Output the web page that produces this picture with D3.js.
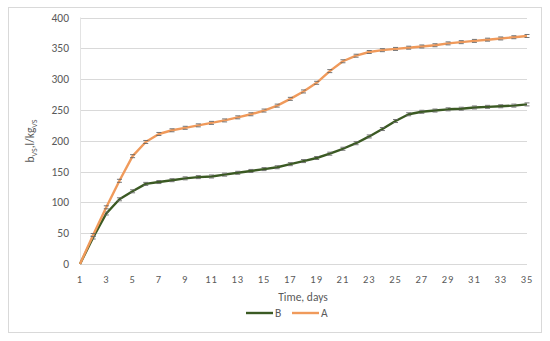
<!DOCTYPE html>
<html>
<head>
<meta charset="utf-8">
<script src="https://cdn.jsdelivr.net/npm/d3@7"></script>
<style>
  body { margin: 0; background: #fff; }
  text { font-family: Carlito, Lato, "Open Sans", sans-serif; }
</style>
</head>
<body>
<svg id="chart" width="550" height="341"></svg>
<script>
// days 1..35
const days = d3.range(1, 36);
const seriesA = [0, 47, 92, 135, 175, 198, 211, 217, 221, 225, 229, 233, 238, 243, 249, 257, 268, 280, 294, 313,
  329, 338, 344, 347, 349, 351, 353, 355, 358, 360, 362, 364, 366, 368, 370];
const seriesB = [0, 43, 82, 105, 118, 130, 133, 136, 139, 141, 142, 145, 148, 151, 154, 157, 162, 167, 172, 179,
  187, 196, 207, 219, 232, 243, 247, 249, 251, 252, 254, 255, 256, 257, 259];
const yTicks = [0, 50, 100, 150, 200, 250, 300, 350, 400];
const xTicks = d3.range(1, 36, 2);

const svg = d3.select('#chart');

// outer chart frame
svg.append('rect')
  .attr('x', 8.5).attr('y', 7.5).attr('width', 533).attr('height', 325)
  .attr('fill', '#fff').attr('stroke', '#d9d9d9');

const x = d3.scaleLinear().domain([1, 35]).range([80, 527]);
const y = d3.scaleLinear().domain([0, 400]).range([264, 17.5]);

// gridlines
svg.append('g')
  .selectAll('line')
  .data(yTicks)
  .join('line')
  .attr('x1', 80).attr('x2', 527)
  .attr('y1', d => Math.round(y(d)) + 0.5).attr('y2', d => Math.round(y(d)) + 0.5)
  .attr('stroke', '#d9d9d9').attr('stroke-width', 1);

svg.append('line')
  .attr('x1', 80.5).attr('x2', 80.5).attr('y1', y(400)).attr('y2', y(0))
  .attr('stroke', '#e3e3e3');

// y tick labels
svg.append('g')
  .selectAll('text')
  .data(yTicks)
  .join('text')
  .attr('x', 69).attr('y', d => y(d) + 4)
  .attr('text-anchor', 'end')
  .attr('font-size', 11.5).attr('fill', '#595959')
  .text(d => d);

// x tick labels
svg.append('g')
  .selectAll('text')
  .data(xTicks)
  .join('text')
  .attr('x', d => x(d)).attr('y', 283)
  .attr('text-anchor', 'middle')
  .attr('font-size', 10.5).attr('fill', '#595959')
  .attr('letter-spacing', 1)
  .text(d => d);

// axis titles
svg.append('text')
  .attr('x', 303).attr('y', 301)
  .attr('text-anchor', 'middle')
  .attr('font-size', 11.5).attr('fill', '#595959')
  .text('Time, days');

const yt = svg.append('text')
  .attr('transform', 'translate(34,141) rotate(-90)')
  .attr('text-anchor', 'middle')
  .attr('font-size', 11.5).attr('fill', '#595959');
yt.append('tspan').text('b');
yt.append('tspan').attr('font-size', 8).attr('dy', 3).text('VS');
yt.append('tspan').attr('dy', -3).text(',l/kg');
yt.append('tspan').attr('font-size', 8).attr('dy', 3).text('VS');

const line = d3.line()
  .x((d, i) => x(days[i]))
  .y(d => y(d));

const series = [
  { name: 'B', values: seriesB, color: '#3b5a23' },
  { name: 'A', values: seriesA, color: '#f09a5b' }
];

series.forEach(s => {
  svg.append('path')
    .datum(s.values)
    .attr('d', line)
    .attr('fill', 'none')
    .attr('stroke', s.color)
    .attr('stroke-width', 2.4)
    .attr('stroke-linejoin', 'round');

  // tiny error caps on each point
  const caps = svg.append('g').attr('stroke', '#666').attr('stroke-width', 0.9);
  s.values.forEach((v, i) => {
    if (i === 0) return;
    const cx = x(days[i]), cy = y(v);
    caps.append('line').attr('x1', cx - 2.5).attr('x2', cx + 2.5)
      .attr('y1', cy - 1.5).attr('y2', cy - 1.5);
    caps.append('line').attr('x1', cx - 2.5).attr('x2', cx + 2.5)
      .attr('y1', cy + 1.5).attr('y2', cy + 1.5);
  });
});

// legend
const legend = svg.append('g');
[{ name: 'B', color: '#3b5a23', x0: 246 }, { name: 'A', color: '#f09a5b', x0: 292 }].forEach(l => {
  legend.append('line')
    .attr('x1', l.x0).attr('x2', l.x0 + 27)
    .attr('y1', 313).attr('y2', 313)
    .attr('stroke', l.color).attr('stroke-width', 2.4);
  legend.append('text')
    .attr('x', l.x0 + 29).attr('y', 317)
    .attr('font-size', 11.5).attr('fill', '#595959')
    .text(l.name);
});
</script>
</body>
</html>
